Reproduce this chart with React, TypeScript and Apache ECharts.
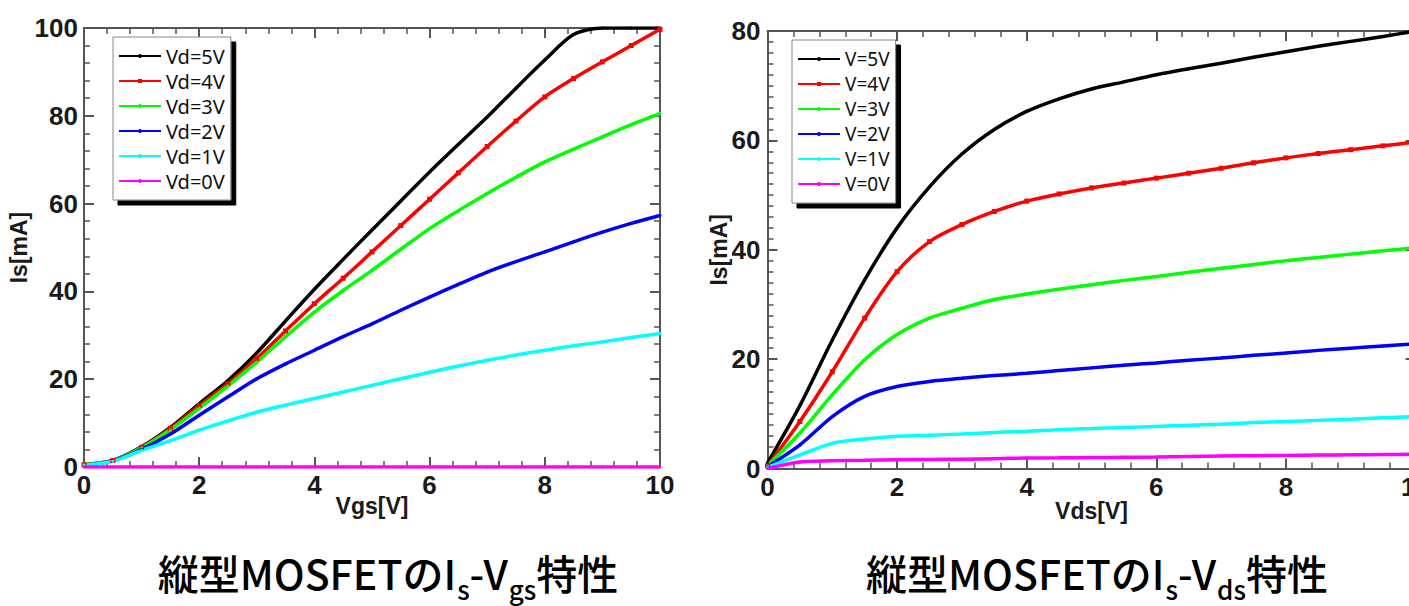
import React, { useEffect, useRef } from "react";
import * as echarts from "echarts";

// ---- data ----
const vSteps = [0, 0.5, 1, 1.5, 2, 2.5, 3, 3.5, 4, 4.5, 5, 5.5, 6, 6.5, 7, 7.5, 8, 8.5, 9, 9.5, 10];

const leftNames = ["Vd=5V", "Vd=4V", "Vd=3V", "Vd=2V", "Vd=1V", "Vd=0V"];
const rightNames = ["V=5V", "V=4V", "V=3V", "V=2V", "V=1V", "V=0V"];
const lineColors = ["#000000", "#ff0000", "#00ff00", "#0000ff", "#00ffff", "#ff00ff"];

// Is-Vgs (left)
const isVgs5 = [0.5, 1.5, 4.6, 9, 14.4, 19.7, 26, 33.3, 40.5, 47.3, 54, 60.6, 67.2, 73.5, 79.7, 86.3, 92.7, 98.5, 100, 100, 100];
const isVgs4 = [0.5, 1.5, 4.5, 8.8, 14, 19, 24.7, 31, 37.2, 43, 49, 55, 61, 67, 73, 78.8, 84.3, 88.5, 92.3, 96, 99.7];
const isVgs3 = [0.5, 1.5, 4.4, 8.5, 13.4, 18.5, 23.9, 29.7, 35.3, 40.2, 44.8, 49.6, 54.3, 58.4, 62.3, 66, 69.5, 72.4, 75.2, 78, 80.5];
const isVgs2 = [0.4, 1.4, 4, 7.5, 11.8, 16, 20.1, 23.5, 26.6, 29.7, 32.6, 35.7, 38.7, 41.6, 44.4, 46.8, 49, 51.3, 53.5, 55.5, 57.3];
const isVgs1 = [0.4, 1.3, 3.8, 6, 8.4, 10.5, 12.5, 14.1, 15.6, 17.1, 18.6, 20.1, 21.6, 23, 24.3, 25.5, 26.6, 27.6, 28.5, 29.5, 30.4];
const isVgs0 = [0, 0, 0, 0, 0, 0, 0, 0, 0, 0, 0, 0, 0, 0, 0, 0, 0, 0, 0, 0, 0];

// Is-Vds (right)
const isVds5 = [1, 11.5, 23.5, 34.5, 44, 51.5, 57.5, 62, 65.3, 67.6, 69.4, 70.7, 72, 73.1, 74.1, 75.2, 76.2, 77.2, 78.1, 79, 80];
const isVds4 = [0.5, 8.6, 17.7, 27.5, 36, 41.5, 44.6, 47, 48.9, 50.2, 51.3, 52.2, 53.1, 54, 54.9, 55.9, 56.8, 57.6, 58.3, 59, 59.7];
const isVds3 = [0.5, 6.5, 13.5, 19.9, 24.5, 27.5, 29.3, 30.9, 31.9, 32.8, 33.6, 34.4, 35.1, 35.9, 36.6, 37.3, 38, 38.6, 39.2, 39.8, 40.4];
const isVds2 = [0.3, 4.3, 9.5, 13.2, 15, 15.9, 16.5, 17, 17.4, 17.9, 18.4, 18.9, 19.3, 19.8, 20.2, 20.7, 21.1, 21.6, 22, 22.4, 22.8];
const isVds1 = [0.2, 2.5, 4.6, 5.4, 5.9, 6.1, 6.3, 6.6, 6.8, 7.1, 7.3, 7.5, 7.7, 7.9, 8.1, 8.4, 8.6, 8.8, 9, 9.3, 9.5];
const isVds0 = [0, 1.2, 1.4, 1.5, 1.6, 1.65, 1.7, 1.8, 1.9, 1.95, 2, 2.05, 2.1, 2.2, 2.3, 2.35, 2.4, 2.45, 2.5, 2.55, 2.6];

const leftValues = [isVgs5, isVgs4, isVgs3, isVgs2, isVgs1, isVgs0];
const rightValues = [isVds5, isVds4, isVds3, isVds2, isVds1, isVds0];

const NUM_FONT = "'Liberation Sans', Arial, sans-serif";
const AXIS_COLOR = "#555555";

function makeAxis(kind: "x" | "y", gridIndex: number, pos: string, max: number, minorSplit: number, main: boolean, name?: string, nameGap?: number, labelMargin?: number) {
  const ax: any = {
    type: "value",
    gridIndex,
    position: pos,
    min: 0,
    max,
    interval: kind === "x" ? 2 : 20,
    axisLine: { show: true, onZero: false, lineStyle: { color: AXIS_COLOR, width: 2 } },
    axisTick: { show: true, inside: true, length: 10, lineStyle: { color: AXIS_COLOR, width: 2 } },
    minorTick: { show: true, splitNumber: minorSplit, length: 6, lineStyle: { color: AXIS_COLOR, width: 1.5 } },
    splitLine: { show: false },
    minorSplitLine: { show: false },
    axisLabel: {
      show: main,
      fontFamily: NUM_FONT,
      fontSize: 26,
      fontWeight: "bold",
      color: "#1a1a1a",
      margin: labelMargin ?? 6,
    },
  };
  if (main && name) {
    ax.name = name;
    ax.nameLocation = "middle";
    ax.nameGap = nameGap;
    ax.nameMoveOverlap = false;
    ax.nameTextStyle = { fontFamily: NUM_FONT, fontSize: 23, fontWeight: "bold", color: "#1a1a1a" };
  }
  return ax;
}

function makeSeries(names: string[], values: number[][], xIdx: number, yIdx: number) {
  return names.map((n, i) => ({
    name: n,
    type: "line",
    xAxisIndex: xIdx,
    yAxisIndex: yIdx,
    data: vSteps.map((v, k) => [v, values[i][k]]),
    smooth: 0.3,
    showSymbol: true,
    symbol: i === 1 ? "rect" : "circle",
    symbolSize: i === 1 ? 5 : 3,
    lineStyle: { color: lineColors[i], width: 3.5 },
    itemStyle: { color: lineColors[i] },
    clip: true,
    z: 3,
  }));
}

function legendOf(names: string[], left: number, top: number, textSize: number) {
  return {
    data: names,
    orient: "vertical",
    left,
    top,
    backgroundColor: "#ffffff",
    borderColor: "#888888",
    borderWidth: 1,
    shadowColor: "#000000",
    shadowBlur: 0,
    shadowOffsetX: 5,
    shadowOffsetY: 5,
    padding: [9, 6, 9, 5],
    itemWidth: 42,
    itemHeight: 5,
    itemGap: 5,
    z: 10,
    textStyle: { fontFamily: "'Noto Sans', sans-serif", fontSize: textSize, lineHeight: 20, color: "#111" },
  };
}

export default function App() {
  const ref = useRef<HTMLDivElement>(null);
  useEffect(() => {
    document.body.style.margin = "0";
    if (!ref.current) return;
    const chart = echarts.init(ref.current, undefined, { renderer: "svg" });
    const titleFont = "'Noto Sans CJK JP', sans-serif";
    const rich = {
      a: { fontFamily: titleFont, fontSize: 41, lineHeight: 50, fontWeight: 500, color: "#111", verticalAlign: "top" },
      s: { fontFamily: titleFont, fontSize: 26, lineHeight: 28, fontWeight: 500, color: "#111", verticalAlign: "top", padding: [24, 0, 0, 1] },
    };
    chart.setOption({
      animation: false,
      backgroundColor: "#ffffff",
      grid: [
        { left: 84, top: 28, width: 576, height: 439, outerBoundsMode: "none" },
        { left: 767.5, top: 31, width: 648, height: 437.5, outerBoundsMode: "none" },
      ],
      xAxis: [
        makeAxis("x", 0, "bottom", 10, 5, true, "Vgs[V]", 27, 5),
        makeAxis("x", 0, "top", 10, 5, false),
        makeAxis("x", 1, "bottom", 10, 5, true, "Vds[V]", 31, 5),
        makeAxis("x", 1, "top", 10, 5, false),
      ],
      yAxis: [
        makeAxis("y", 0, "left", 100, 5, true, "Is[mA]", 54, 6),
        makeAxis("y", 0, "right", 100, 5, false),
        makeAxis("y", 1, "left", 80, 10, true, "Is[mA]", 37, 7),
        makeAxis("y", 1, "right", 80, 10, false),
      ],
      legend: [legendOf(leftNames, 113, 37, 20), legendOf(rightNames, 792, 40, 19)],
      series: [
        ...makeSeries(leftNames, leftValues, 0, 0),
        ...makeSeries(rightNames, rightValues, 2, 2),
      ],
      graphic: [
        {
          type: "text",
          x: 388,
          y: 576,
          style: {
            text: "{a|縦型MOSFETのI}{s|s}{a|-V}{s|gs}{a|特性}",
            rich,
            align: "center",
            verticalAlign: "middle",
          },
        },
        {
          type: "text",
          x: 1097,
          y: 576,
          style: {
            text: "{a|縦型MOSFETのI}{s|s}{a|-V}{s|ds}{a|特性}",
            rich,
            align: "center",
            verticalAlign: "middle",
          },
        },
      ],
    });
    return () => chart.dispose();
  }, []);
  return (
    <div
      ref={ref}
      style={{ position: "fixed", left: 0, top: 0, width: 1409, height: 606, background: "#fff" }}
    />
  );
}
